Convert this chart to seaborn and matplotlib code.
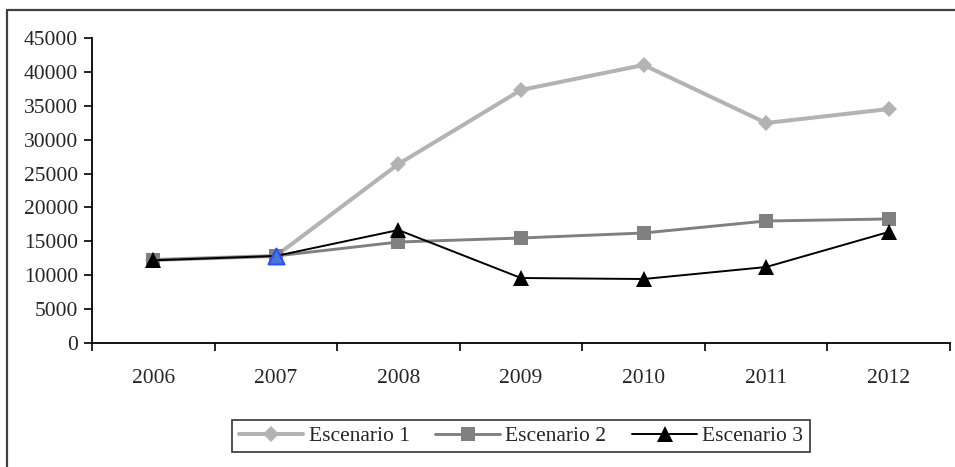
import numpy as np
import pandas as pd
import matplotlib
matplotlib.use("Agg")
import matplotlib.pyplot as plt
from matplotlib.lines import Line2D
import seaborn as sns

years = ["2006", "2007", "2008", "2009", "2010", "2011", "2012"]
escenario_1 = [12250, 12840, 26400, 37330, 41020, 32460, 34520]
escenario_2 = [12250, 12840, 14900, 15490, 16230, 18000, 18300]
escenario_3 = [12200, 12840, 16670, 9590, 9440, 11210, 16380]
series_names = ["Escenario 1", "Escenario 2", "Escenario 3"]
highlight_year = "2007"  # point shown in blue on Escenario 3
y_ticks = list(range(0, 45001, 5000))

sns.set_style("ticks")
plt.rcParams["font.family"] = ["Liberation Serif", "DejaVu Serif"]

idx = np.arange(len(years))
df = pd.DataFrame({
    "x": np.tile(idx, 3),
    "value": escenario_1 + escenario_2 + escenario_3,
    "serie": np.repeat(series_names, len(years)),
})

fig = plt.figure(figsize=(9.55, 4.67), dpi=100)
ax = fig.add_axes([92 / 955, 1 - 343 / 467, (950 - 92) / 955, (343 - 38) / 467])

styles = {
    "Escenario 1": dict(color="#b3b3b3", lw=2.9, marker="D", ms=8.5),
    "Escenario 2": dict(color="#808080", lw=2.1, marker="s", ms=9.5),
    "Escenario 3": dict(color="#000000", lw=1.4, marker="^", ms=11),
}
handles = []
for name in series_names:
    st = styles[name]
    sub = df[df["serie"] == name]
    sns.lineplot(data=sub, x="x", y="value", ax=ax, color=st["color"],
                 linewidth=st["lw"], marker=st["marker"], markersize=st["ms"],
                 markeredgewidth=0, markerfacecolor=st["color"], legend=False)
    handles.append(Line2D([], [], color=st["color"], lw=st["lw"],
                          marker=st["marker"], markersize=st["ms"],
                          markeredgewidth=0, markerfacecolor=st["color"]))

# highlighted point
hi = years.index(highlight_year)
sub3 = df[(df["serie"] == "Escenario 3") & (df["x"] == hi)]
sns.scatterplot(data=sub3, x="x", y="value", ax=ax, marker="^", s=130,
                color="#4d74d9", edgecolor="#2851ff", linewidth=1.5,
                zorder=5, legend=False)

ax.set_xlim(-0.5, len(years) - 0.5)
ax.set_ylim(0, 45000)
ax.set_yticks(y_ticks)
ax.set_yticklabels([str(v) for v in y_ticks])
ax.set_xticks(np.arange(-0.5, len(years), 1.0))
ax.set_xticklabels([])
ax.set_xticks(idx, minor=True)
ax.set_xticklabels(years, minor=True)
ax.tick_params(axis="x", which="major", length=6, width=1.2, color="black", direction="out")
ax.tick_params(axis="x", which="minor", length=0, pad=19, labelsize=15.5)
ax.tick_params(axis="y", length=6, width=1.2, color="black", direction="out",
               pad=4, labelsize=15.5)
ax.set_xlabel("")
ax.set_ylabel("")
sns.despine(ax=ax)
for s in ["left", "bottom"]:
    ax.spines[s].set_linewidth(1.3)
    ax.spines[s].set_color("black")

leg = fig.legend(handles, series_names, loc="center",
                 bbox_to_anchor=(521 / 955, 1 - 436 / 467), ncol=3,
                 fontsize=15.5, frameon=True, fancybox=False,
                 handlelength=3.0, handletextpad=0.25, columnspacing=1.2,
                 borderpad=0.3, borderaxespad=0)
leg.get_frame().set_edgecolor("black")
leg.get_frame().set_linewidth(1.2)

# outer chart border (left and top visible)
fig.add_artist(Line2D([7 / 955, 7 / 955], [0, 1 - 10 / 467],
                      transform=fig.transFigure, color="#404040", lw=1.6))
fig.add_artist(Line2D([7 / 955, 1], [1 - 10 / 467, 1 - 10 / 467],
                      transform=fig.transFigure, color="#404040", lw=1.6))

fig.savefig("out.png", dpi=100)
